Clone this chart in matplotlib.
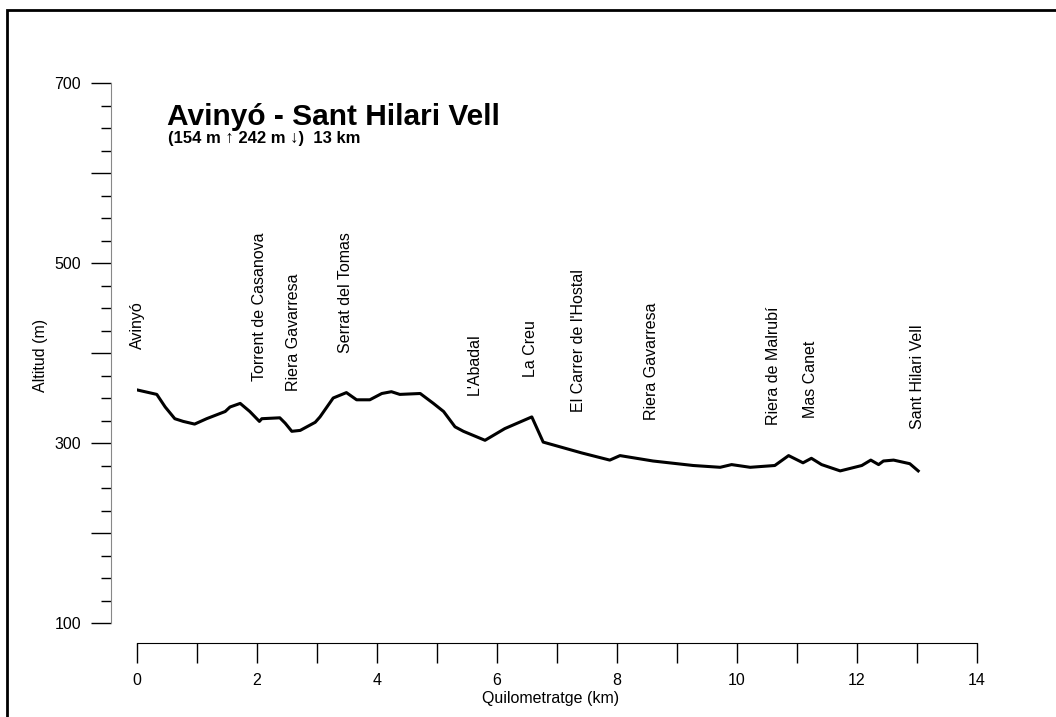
import numpy as np
import matplotlib
matplotlib.use("Agg")
import matplotlib.pyplot as plt
from matplotlib.patches import Rectangle
from matplotlib.ticker import MultipleLocator, FuncFormatter

plt.rcParams["font.family"] = ["Liberation Sans", "DejaVu Sans"]

# =============================================================================
# Profile data (distance [km], altitude [m])
# =============================================================================
dist_km = [0.00, 0.33, 0.47, 0.63, 0.77, 0.96, 1.16, 1.47, 1.55, 1.72,
           1.88, 2.04, 2.08, 2.38, 2.47, 2.58, 2.72, 2.97, 3.05, 3.27,
           3.49, 3.66, 3.88, 4.08, 4.24, 4.38, 4.72, 4.94, 5.11, 5.30,
           5.44, 5.80, 6.13, 6.58, 6.77, 7.41, 7.88, 8.05, 8.60, 9.27,
           9.72, 9.91, 10.22, 10.63, 10.86, 11.10, 11.24, 11.41, 11.72, 12.08,
           12.23, 12.36, 12.44, 12.61, 12.88, 13.02]
alt_m = [359, 354, 340, 327, 324, 321, 327, 335, 340, 344,
         335, 324, 327, 328, 322, 313, 314, 323, 329, 350,
         356, 348, 348, 355, 357, 354, 355, 344, 335, 318,
         313, 303, 316, 329, 301, 289, 281, 286, 280, 275,
         273, 276, 273, 275, 286, 278, 283, 276, 269, 275,
         281, 276, 280, 281, 277, 269]

# Waypoints along the route
wp_names = ["Avinyó", "Torrent de Casanova", "Riera Gavarresa", "Serrat del Tomas",
            "L'Abadal", "La Creu", "El Carrer de l'Hostal", "Riera Gavarresa",
            "Riera de Malrubí", "Mas Canet", "Sant Hilari Vell"]
wp_km = [0.0, 2.04, 2.60, 3.47, 5.62, 6.56, 7.36, 8.58, 10.60, 11.22, 13.0]

title = "Avinyó - Sant Hilari Vell"
subtitle = "(154 m \u2191 242 m \u2193)  13 km"

# =============================================================================
# Plotting
# =============================================================================
W, H = 1056, 717
PX = 72 / 100  # points per pixel at dpi 100
fig = plt.figure(figsize=(W / 100, H / 100), dpi=100)
ax = fig.add_axes([137 / W, 1 - 623 / H, 840 / W, 540 / H])

ax.plot(dist_km, alt_m, color="black", linewidth=2.2, solid_joinstyle="round")

# rotated waypoint labels, sitting ~45 m above the profile
wp_alt = np.interp(wp_km, dist_km, alt_m)
for name, x, a in zip(wp_names, wp_km, wp_alt):
    ax.text(x, a + 45, name, rotation=90, ha="center", va="bottom", fontsize=11.5)

ax.set_xlim(0, 14)
ax.set_ylim(100, 700)

for side in ("top", "right"):
    ax.spines[side].set_visible(False)
ax.spines["left"].set_position(("outward", 26 * PX))
ax.spines["bottom"].set_position(("outward", 20 * PX))
ax.spines["left"].set_bounds(100, 700)
ax.spines["bottom"].set_bounds(0, 14)
ax.spines["left"].set_color("#888888")
ax.spines["bottom"].set_color("black")

ax.yaxis.set_major_locator(MultipleLocator(100))
ax.yaxis.set_minor_locator(MultipleLocator(25))
ax.yaxis.set_major_formatter(FuncFormatter(lambda v, p: f"{v:.0f}" if round(v) % 200 == 100 else ""))
ax.xaxis.set_major_locator(MultipleLocator(1))
ax.xaxis.set_major_formatter(FuncFormatter(lambda v, p: f"{v:.0f}" if round(v) % 2 == 0 else ""))

ax.tick_params(axis="y", which="major", length=20 * PX, width=1, pad=10 * PX, labelsize=11.5)
ax.tick_params(axis="y", which="minor", length=10 * PX, width=1)
ax.tick_params(axis="x", which="major", length=20 * PX, width=1, pad=10 * PX, labelsize=11.5)

fig.text(40 / W, 1 - 355 / H, "Altitud (m)", rotation=90, ha="center", va="center", fontsize=11.5)
fig.text(551 / W, 1 - 698 / H, "Quilometratge (km)", ha="center", va="center", fontsize=11.5)

fig.text(167 / W, 1 - 125 / H, title, ha="left", va="baseline", fontsize=21.5, fontweight="bold")
fig.text(168 / W, 1 - 143 / H, subtitle, ha="left", va="baseline", fontsize=12, fontweight="bold")

# outer frame
fig.patches.append(Rectangle((7 / W, -0.05), 1.2, 1 - 10 / H + 0.05,
                             transform=fig.transFigure, fill=False,
                             edgecolor="black", linewidth=2))

fig.savefig("out.png", dpi=100)
